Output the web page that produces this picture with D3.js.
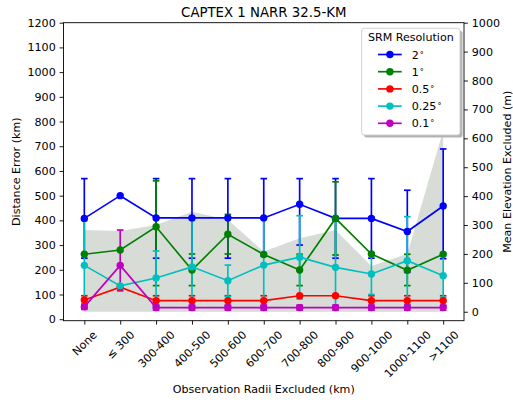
<!DOCTYPE html>
<html>
<head>
<meta charset="utf-8">
<script src="https://cdn.jsdelivr.net/npm/d3@7"></script>
<style>
  body { margin: 0; background: #fff; }
  svg { display: block; font-family: "DejaVu Sans", sans-serif; }
</style>
</head>
<body>
<svg id="chart" width="513" height="402"></svg>
<script>
// Observation radii excluded (x categories)
const categories = ["None", "\u2264 300", "300-400", "400-500", "500-600", "600-700",
                    "700-800", "800-900", "900-1000", "1000-1100", ">1100"];

// Distance error (km) per SRM resolution, with error bar bounds (null = no bar)
const deg2     = [408, 500, 410, 410, 410, 410, 465, 408, 408, 355, 458];
const deg2Lo   = [247, null, 247, 247, 247, 255, 300, 247, 247, 190, 245];
const deg2Hi   = [569, null, 569, 569, 569, 569, 569, 569, 569, 522, 689];

const deg1     = [263, 280, 374, 199, 344, 262, 199, 408, 264, 198, 263];
const deg1Lo   = [null, null, 136, 136, 264, null, 136, 260, null, 136, null];
const deg1Hi   = [null, null, 560, 264, 424, null, 263, 556, null, 263, null];

const deg05    = [78, 130, 75, 75, 75, 75, 95, 95, 75, 75, 75];
const deg05Lo  = [60, null, 55, 55, 55, 55, null, null, 55, 55, 55];
const deg05Hi  = [95, null, 95, 95, 95, 95, null, null, 95, 95, 95];

const deg025   = [218, 135, 167, 212, 156, 219, 251, 210, 183, 237, 176];
const deg025Lo = [45, null, 57, 45, 92, 45, 82, 45, 100, 59, 89];
const deg025Hi = [400, null, 276, 405, 219, 405, 419, 400, 262, 415, 263];

const deg01    = [50, 218, 47, 47, 47, 47, 47, 47, 47, 47, 47];
const deg01Lo  = [40, 115, 37, 37, 37, 37, 37, 37, 37, 37, 37];
const deg01Hi  = [60, 361, 57, 57, 57, 57, 57, 57, 57, 57, 57];

// Mean elevation excluded (m), right axis
const elevation = [283, 279, 300, 346, 318, 208, 254, 283, 158, 200, 627];

const leftTicks  = d3.range(0, 1201, 100);
const rightTicks = d3.range(0, 1001, 100);

const seriesNames  = ["2", "1", "0.5", "0.25", "0.1"];
const seriesColors = ["#0000ff", "#008000", "#ff0000", "#00bfbf", "#bf00bf"];

const series = [
  { name: seriesNames[0], color: seriesColors[0], v: deg2,   lo: deg2Lo,   hi: deg2Hi },
  { name: seriesNames[1], color: seriesColors[1], v: deg1,   lo: deg1Lo,   hi: deg1Hi },
  { name: seriesNames[2], color: seriesColors[2], v: deg05,  lo: deg05Lo,  hi: deg05Hi },
  { name: seriesNames[3], color: seriesColors[3], v: deg025, lo: deg025Lo, hi: deg025Hi },
  { name: seriesNames[4], color: seriesColors[4], v: deg01,  lo: deg01Lo,  hi: deg01Hi }
];

const plot = { left: 63.5, right: 464, top: 22.7, bottom: 320.7 };
const svg = d3.select("#chart");

const x  = d3.scaleLinear().domain([-0.58, categories.length - 1 + 0.58]).range([plot.left, plot.right]);
const yL = d3.scaleLinear().domain([-6, 1200]).range([plot.bottom, plot.top]);
const yR = d3.scaleLinear().domain([-31, 1000]).range([plot.bottom, plot.top]);

const FS = 11.1;

// elevation area on the twin axis
const area = d3.area()
  .x((d, i) => x(i))
  .y0(() => yR(0))
  .y1(d => yR(d));
svg.append("path").datum(elevation)
  .attr("d", area)
  .attr("fill", "#d8dcd6");

// error bars for every series first
const capHalf = 3.3;
const ebG = svg.append("g");
series.forEach(s => {
  s.v.forEach((val, i) => {
    if (s.lo[i] == null || s.hi[i] == null) return;
    const cx = x(i);
    ebG.append("line")
      .attr("x1", cx).attr("x2", cx)
      .attr("y1", yL(s.lo[i])).attr("y2", yL(s.hi[i]))
      .attr("stroke", s.color).attr("stroke-width", 1.67);
    [s.lo[i], s.hi[i]].forEach(b => {
      ebG.append("line")
        .attr("x1", cx - capHalf).attr("x2", cx + capHalf)
        .attr("y1", yL(b)).attr("y2", yL(b))
        .attr("stroke", s.color).attr("stroke-width", 1.7);
    });
  });
});

// lines and markers
const line = d3.line().x((d, i) => x(i)).y(d => yL(d));
series.forEach(s => {
  svg.append("path").datum(s.v)
    .attr("d", line)
    .attr("fill", "none")
    .attr("stroke", s.color)
    .attr("stroke-width", 1.67);
  svg.append("g").selectAll("circle").data(s.v).join("circle")
    .attr("cx", (d, i) => x(i))
    .attr("cy", d => yL(d))
    .attr("r", 3.7)
    .attr("fill", s.color);
});

// spines
svg.append("rect")
  .attr("x", plot.left).attr("y", plot.top)
  .attr("width", plot.right - plot.left).attr("height", plot.bottom - plot.top)
  .attr("fill", "none").attr("stroke", "#000").attr("stroke-width", 0.9);

// left axis
const axL = svg.append("g").attr("transform", `translate(${plot.left},0)`)
  .call(d3.axisLeft(yL).tickValues(leftTicks).tickFormat(d3.format("d")).tickSizeInner(3.9).tickSizeOuter(0).tickPadding(3.9));
// right axis
const axR = svg.append("g").attr("transform", `translate(${plot.right},0)`)
  .call(d3.axisRight(yR).tickValues(rightTicks).tickFormat(d3.format("d")).tickSizeInner(3.9).tickSizeOuter(0).tickPadding(3.9));
// bottom axis
const axB = svg.append("g").attr("transform", `translate(0,${plot.bottom})`)
  .call(d3.axisBottom(x).tickValues(d3.range(categories.length)).tickFormat(i => categories[i]).tickSizeInner(3.9).tickSizeOuter(0));

[axL, axR, axB].forEach(a => {
  a.select(".domain").remove();
  a.selectAll(".tick line").attr("stroke", "#000").attr("stroke-width", 0.9);
  a.selectAll(".tick text").attr("fill", "#000").attr("font-size", FS).attr("font-family", "DejaVu Sans");
});

// rotated category labels: centred under tick, top of rotated box below tick
axB.selectAll(".tick text").each(function () {
  const t = d3.select(this);
  t.attr("x", null).attr("y", null).attr("dy", "0.35em")
    .attr("text-anchor", "middle")
    .attr("transform", "rotate(-45)");
  const holder = d3.select(this.parentNode).append("g");
  holder.node().appendChild(this);
  const bb = holder.node().getBBox();
  holder.attr("transform", `translate(${-(bb.x + bb.width / 2)},${3.9 + 3.9 - bb.y})`);
});

// title and axis labels
svg.append("text").attr("x", (plot.left + plot.right) / 2).attr("y", 17.3)
  .attr("text-anchor", "middle").attr("font-size", 13.3).attr("fill", "#000")
  .text("CAPTEX 1 NARR 32.5-KM");
svg.append("text").attr("x", (plot.left + plot.right) / 2).attr("y", 392.5)
  .attr("text-anchor", "middle").attr("font-size", FS).attr("fill", "#000")
  .text("Observation Radii Excluded (km)");
svg.append("text")
  .attr("transform", `translate(19.5,${(plot.top + plot.bottom) / 2}) rotate(-90)`)
  .attr("text-anchor", "middle").attr("font-size", FS).attr("fill", "#000")
  .text("Distance Error (km)");
svg.append("text")
  .attr("transform", `translate(511,${(plot.top + plot.bottom) / 2}) rotate(-90)`)
  .attr("text-anchor", "middle").attr("font-size", FS).attr("fill", "#000")
  .text("Mean Elevation Excluded (m)");

// legend
const lg = { x: 361.7, y: 28.3, w: 98.3, h: 106.7 };
const legend = svg.append("g");
legend.append("rect")
  .attr("x", lg.x + 2.5).attr("y", lg.y + 2.5).attr("width", lg.w).attr("height", lg.h)
  .attr("rx", 2.5).attr("fill", "#b3b3b3");
legend.append("rect")
  .attr("x", lg.x).attr("y", lg.y).attr("width", lg.w).attr("height", lg.h)
  .attr("rx", 2.5).attr("fill", "#fff").attr("stroke", "#cccccc").attr("stroke-width", 0.9);
legend.append("text")
  .attr("x", lg.x + lg.w / 2).attr("y", 41.3)
  .attr("text-anchor", "middle").attr("font-size", FS).attr("fill", "#000")
  .text("SRM Resolution");
series.forEach((s, k) => {
  const cy = 54.5 + k * 17.2;
  legend.append("line")
    .attr("x1", 378).attr("x2", 401.7).attr("y1", cy).attr("y2", cy)
    .attr("stroke", s.color).attr("stroke-width", 1.67);
  legend.append("circle").attr("cx", 389.9).attr("cy", cy).attr("r", 3.7).attr("fill", s.color);
  const t = legend.append("text")
    .attr("x", 411.7).attr("y", cy + 4).attr("font-size", FS).attr("fill", "#000");
  t.append("tspan").text(s.name);
  t.append("tspan").attr("font-size", 8).attr("dx", 1).attr("dy", -1).text("\u00b0");
});
</script>
</body>
</html>
